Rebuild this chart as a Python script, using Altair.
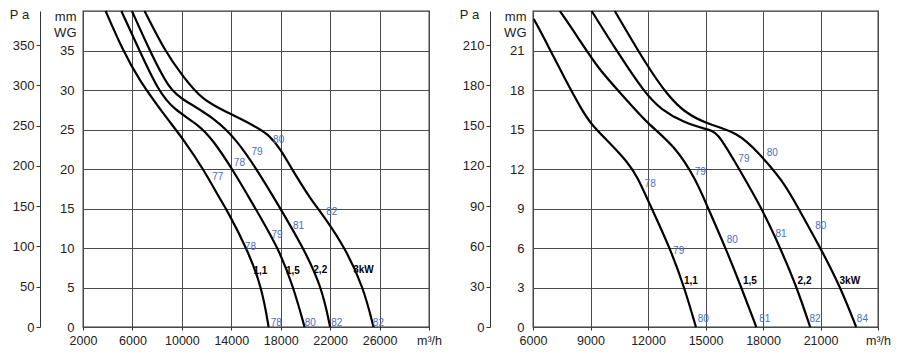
import altair as alt
import pandas as pd

FONT = "Liberation Sans"
BLUE = "#4a6cc6"

# ---------------- Left chart (x: m3/h, y: mm WG) ----------------
L_names = ["1,1", "1,5", "2,2", "3kW"]
L_11_flow = [3830, 5230, 6520, 8540, 10160, 11770, 13120, 13580, 15250, 16480, 17020]
L_11_mm = [40, 35, 31.3, 26.9, 23.7, 19.9, 16.1, 15, 10, 5, 0]
L_15_flow = [5100, 6570, 8060, 9350, 11370, 12500, 14120, 15540, 17830, 19040, 19930]
L_15_mm = [40, 35, 30, 27.5, 25.6, 23.7, 19.9, 16.1, 10, 5, 0]
L_22_flow = [5960, 7390, 9000, 10160, 12580, 14440, 16080, 17560, 19850, 21330, 22000]
L_22_mm = [40, 35, 30, 28.7, 26.5, 23.7, 19.9, 16.1, 10, 5, 0]
L_30_flow = [6980, 8600, 10000, 11640, 13790, 15950, 17000, 18000, 18900, 19700, 20520, 21400, 23220, 24700, 25510]
L_30_mm = [40, 35, 31.9, 28.7, 27.1, 25.4, 24.4, 22.5, 20.0, 18.0, 16.0, 14.2, 10, 5, 0]

L_db_text = ["77", "78", "79", "80", "78", "79", "81", "82", "78", "80", "82", "82"]
L_db_flow = [12905, 14657, 16079, 17832, 15546, 17695, 19447, 22137, 17646, 20393, 22541, 25905]
L_db_mm = [19.04, 20.73, 22.2, 23.67, 10.08, 11.68, 12.82, 14.5, 0.53, 0.53, 0.53, 0.53]
L_kw_text = ["1,1", "1,5", "2,2", "3kW"]
L_kw_flow = [16354, 18987, 21200, 24698]
L_kw_mm = [7.13, 7.13, 7.26, 7.26]

L_x_ticks = [2000, 6000, 10000, 14000, 18000, 22000, 26000, 30000]
L_mm_ticks = [0, 5, 10, 15, 20, 25, 30, 35]
L_pa_ticks = [0, 50, 100, 150, 200, 250, 300, 350]

# ---------------- Right chart ----------------
R_11_flow = [6040, 6810, 7680, 8540, 9030, 9920, 10960, 11480, 12000, 13150, 13900, 14500]
R_11_mm = [23.4, 21.3, 18.8, 16.5, 15.4, 14.1, 12.5, 11.3, 9.6, 6, 3, 0]
R_15_flow = [7400, 8300, 9400, 10800, 12000, 13380, 14500, 15020, 16050, 16870, 17650]
R_15_mm = [24, 22.1, 19.6, 17.4, 15.4, 13.8, 11.2, 9.4, 6, 3, 0]
R_22_flow = [9060, 10440, 11820, 12680, 13900, 15100, 15620, 16450, 17950, 18900, 19770, 20460]
R_22_mm = [24, 20.8, 17.8, 16.5, 15.5, 15.0, 14.8, 12.76, 9.0, 6.0, 3.0, 0]
R_30_flow = [10270, 12000, 13030, 13900, 15100, 16660, 17800, 19080, 19700, 21000, 22050, 22860]
R_30_mm = [24, 19.7, 17.6, 16.3, 15.4, 14.8, 13.2, 11.0, 9.4, 6, 3, 0]

R_db_text = ["78", "79", "79", "79", "80", "80", "81", "80", "80", "81", "82", "84"]
R_db_flow = [12114, 13601, 14725, 17005, 18482, 16399, 18938, 21010, 14881, 18093, 20715, 23187]
R_db_mm = [10.83, 5.77, 11.78, 12.74, 13.19, 6.57, 7.10, 7.65, 0.58, 0.58, 0.58, 0.58]
R_kw_text = ["1,1", "1,5", "2,2", "3kW"]
R_kw_flow = [14238, 17316, 20166, 22528]
R_kw_mm = [3.46, 3.46, 3.46, 3.46]

R_x_ticks = [6000, 9000, 12000, 15000, 18000, 21000, 24000]
R_mm_ticks = [0, 3, 6, 9, 12, 15, 18, 21]
R_pa_ticks = [0, 30, 60, 90, 120, 150, 180, 210]


def curves_df(flows, mms):
    rows = []
    for name, fl, mm in zip(L_names, flows, mms):
        for f, m in zip(fl, mm):
            rows.append({"curve": name, "flow": f, "mm": m})
    return pd.DataFrame(rows)


def panel(cdf, db_t, db_f, db_m, kw_t, kw_f, kw_m, x_ticks, mm_ticks, pa_ticks,
          ymax, pa_off, pa_tx, w, h):
    xdom = [x_ticks[0], x_ticks[-1]]
    last = x_ticks[-1]
    x_axis = alt.Axis(
        values=x_ticks, format="d", title=None, grid=True, domain=False,
        labelExpr=f"datum.value == {last} ? 'm³/h' : datum.label",
        labelFlush=False, tickSize=3, labelPadding=4, labelFontSize=12.5,
    )
    yscale = alt.Scale(domain=[0, ymax], nice=False, zero=False)
    mm_axis = alt.Axis(
        values=mm_ticks, grid=True, ticks=False, domain=False, labelPadding=9,
        title=["mm", "WG"], titleAngle=0, titleAlign="right", titleBaseline="top",
        titleX=-7, titleY=-1, titleLineHeight=16, titleFontWeight="normal",
    )
    x = alt.X("flow:Q", scale=alt.Scale(domain=xdom, nice=False, zero=False), axis=x_axis)
    lines = alt.Chart(cdf).mark_line(color="black", strokeWidth=2.2, interpolate="basis").encode(
        x=x, y=alt.Y("mm:Q", scale=yscale, axis=mm_axis), detail="curve:N")
    dbdf = pd.DataFrame({"flow": db_f, "mm": db_m, "t": db_t})
    dbl = alt.Chart(dbdf).mark_text(color=BLUE, fontSize=10, font=FONT).encode(
        x="flow:Q", y=alt.Y("mm:Q", scale=yscale, axis=None), text="t:N")
    kwdf = pd.DataFrame({"flow": kw_f, "mm": kw_m, "t": kw_t})
    kwl = alt.Chart(kwdf).mark_text(color="black", fontSize=10, fontWeight="bold", font=FONT).encode(
        x="flow:Q", y=alt.Y("mm:Q", scale=yscale, axis=None), text="t:N")
    pamax = ymax * 9.81
    padf = pd.DataFrame({"pa": [0, pamax]})
    pa_axis = alt.Axis(
        orient="left", offset=pa_off, values=pa_ticks, grid=False, domain=True,
        domainColor="#333", tickColor="#333", tickSize=4, labelPadding=2,
        title="P a", titleAngle=0, titleAlign="center", titleBaseline="middle",
        titleX=pa_tx, titleY=3, titleFontWeight="normal",
    )
    pa = alt.Chart(padf).mark_point(opacity=0, size=1).encode(
        y=alt.Y("pa:Q", scale=alt.Scale(domain=[0, pamax], nice=False, zero=False), axis=pa_axis))
    return alt.layer(lines, dbl, kwl, pa).resolve_scale(y="independent").properties(width=w, height=h)


left = panel(curves_df([L_11_flow, L_15_flow, L_22_flow, L_30_flow], [L_11_mm, L_15_mm, L_22_mm, L_30_mm]),
             L_db_text, L_db_flow, L_db_mm, L_kw_text, L_kw_flow, L_kw_mm,
             L_x_ticks, L_mm_ticks, L_pa_ticks, 40, 43, -21, 346, 316)
right = panel(curves_df([R_11_flow, R_15_flow, R_22_flow, R_30_flow], [R_11_mm, R_15_mm, R_22_mm, R_30_mm]),
              R_db_text, R_db_flow, R_db_mm, R_kw_text, R_kw_flow, R_kw_mm,
              R_x_ticks, R_mm_ticks, R_pa_ticks, 24, 43, -21, 345, 316)

chart = alt.hconcat(left, right, spacing=15).properties(
    padding={"left": 0, "top": -3, "right": 0, "bottom": 0}
).configure_view(stroke="#333", strokeWidth=1.3).configure_axis(
    labelFont=FONT, titleFont=FONT, labelFontSize=13, titleFontSize=13,
    labelColor="#222", titleColor="#222", gridColor="#4a4a4a", gridWidth=1, tickColor="#333"
)

chart.save("out.html", embed_options={"renderer": "svg", "actions": False})
